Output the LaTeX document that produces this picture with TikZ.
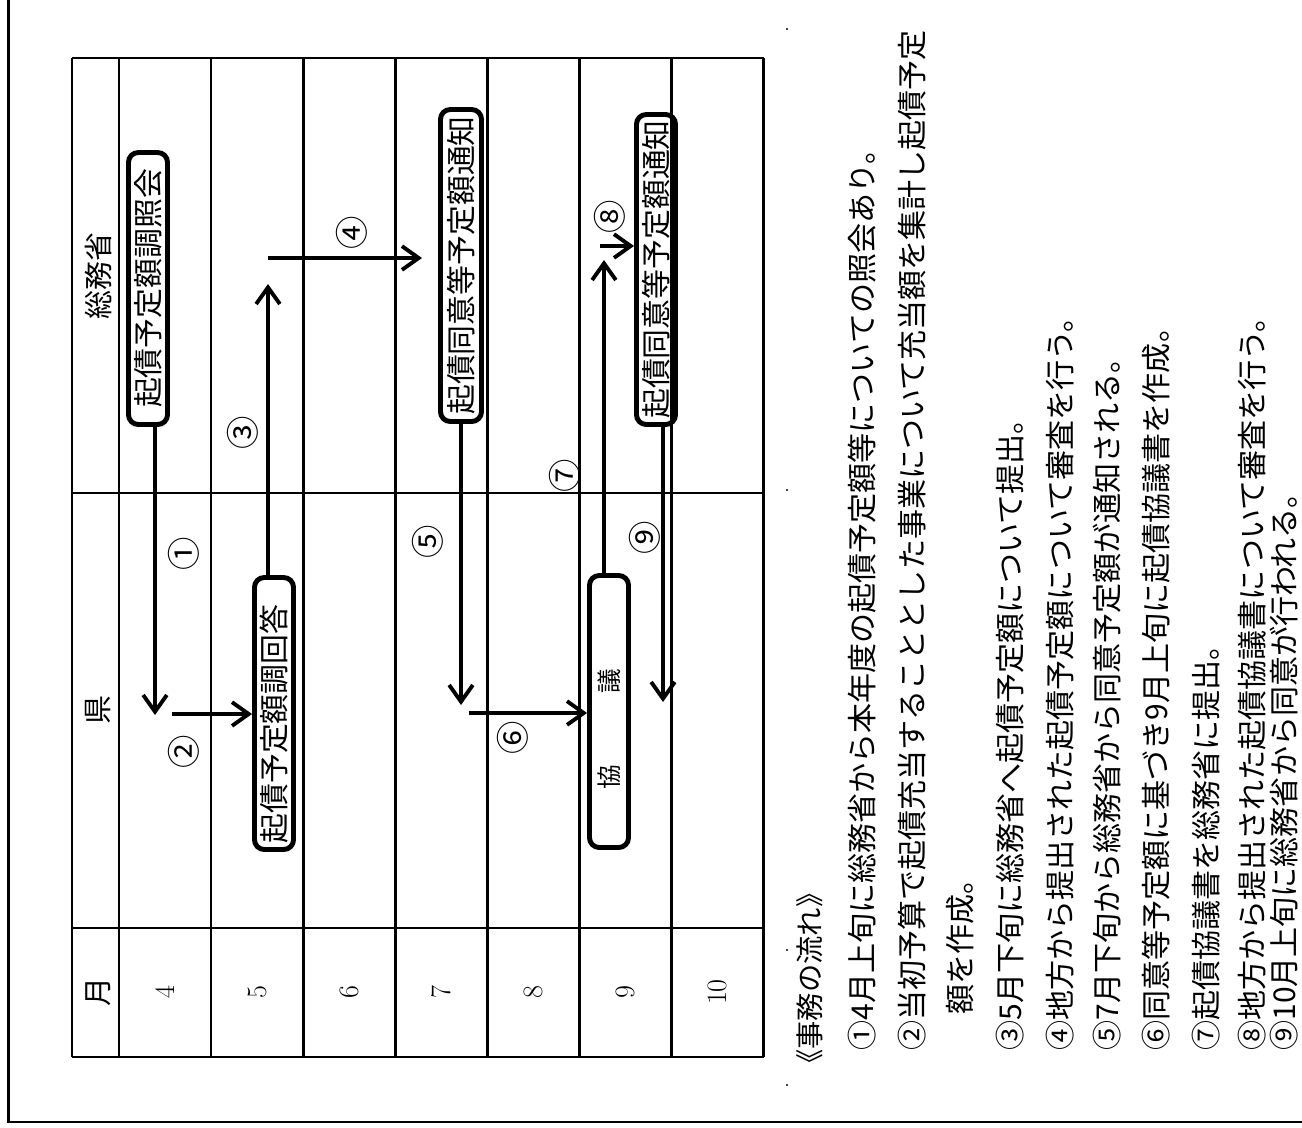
\documentclass[tikz,border=0pt]{standalone}
\usepackage{fontspec}
\newfontfamily\jp{Noto Sans CJK JP}
\usetikzlibrary{arrows.meta}

\begin{document}
\begin{tikzpicture}[x=0.02cm, y=-0.02cm,
  hyo/.style={line width=1.5pt},
  hako/.style={draw, line width=2.8pt, rounded corners=5.5pt, rotate=90,
    font=\jp\fontsize{17pt}{19pt}\selectfont, inner xsep=2pt, inner ysep=0pt,
    minimum height=0.78cm},
  ya/.style={line width=2.2pt, -{Straight Barb[length=9.5pt, width=13.5pt]}},
  midashi/.style={rotate=90, inner sep=0pt, font=\jp\fontsize{16.5pt}{18pt}\selectfont},
  maru/.style={rotate=90, inner sep=0pt, font=\jp\fontsize{19pt}{21pt}\selectfont},
  gyo/.style={rotate=90, anchor=west, inner sep=0pt, font=\jp\fontsize{17.1pt}{19pt}\selectfont}]

  \useasboundingbox (0,0) rectangle (1302,1127);

  % 外枠
  \draw[line width=1.3pt] (8.5,0) -- (8.5,1122) -- (1302,1122);

  % 表の罫線
  \foreach \x in {72, 119, 211.1, 303.2, 395.3, 487.4, 579.5, 671.6, 763.7} {
    \draw[hyo] (\x, 58) -- (\x, 1057);
  }
  \foreach \y in {58, 493, 928, 1057} {
    \draw[hyo] (72, \y) -- (763.7, \y);
  }

  % 見出し
  \node[midashi] (somu) at (98, 276) {総務省};
  \node[midashi] (ken) at (98, 710) {県};
  \node[midashi] (tsuki) at (98, 992) {月};
  \foreach \m [count=\i from 0] in {4,...,10} {
    \node[rotate=90, font=\fontsize{16pt}{18pt}\selectfont] (m\m) at (165+92.1*\i, 992) {\m};
  }

  % 事務のボックス
  \node[hako, minimum width=5.44cm] (shokai) at (148, 288.5) {起債予定額調照会};
  \node[hako, minimum width=6.24cm, minimum height=0.82cm] (tsuchi1) at (461, 265.5) {起債同意等予定額通知};
  \node[hako, minimum width=6.2cm] (tsuchi2) at (656, 269.5) {起債同意等予定額通知};
  \node[hako, minimum width=5.44cm, text width=5.2cm, align=left] (kaito) at (274, 713.5) {起債予定額調回答};
  \node[hako, minimum width=5.44cm, text width=5.2cm, align=left,
    font=\jp\fontsize{14pt}{16pt}\selectfont] (kyogi) at (609, 711.5) {\hspace*{1.04cm}協\hspace{1.43cm}議};

  % 流れの矢印
  \coordinate (t1) at (155, 715);
  \draw[ya] (shokai.west -| t1) -- (t1);
  \coordinate (s2) at (172, 714);
  \draw[ya] (s2) -- (s2 -| kaito.north);
  \coordinate (t3) at (268, 284);
  \draw[ya] (kaito.east -| t3) -- (t3);
  \coordinate (s4) at (268, 258);
  \coordinate (t4) at (422, 258);
  \draw[ya] (s4) -- (t4);
  \coordinate (t5) at (461, 705);
  \draw[ya] (tsuchi1.west -| t5) -- (t5);
  \coordinate (s6) at (469, 713);
  \draw[ya] (s6) -- (s6 -| kyogi.north);
  \coordinate (t7) at (604, 260);
  \draw[ya] (kyogi.east -| t7) -- (t7);
  \coordinate (s8) at (600, 246);
  \draw[ya] (s8) -- (s8 -| tsuchi2.north);
  \coordinate (t9) at (663, 702);
  \draw[ya] (tsuchi2.west -| t9) -- (t9);

  % 番号
  \node[maru] (l1) at (184, 554) {①};
  \node[maru] (l2) at (184, 752) {②};
  \node[maru] (l3) at (243, 433) {③};
  \node[maru] (l4) at (352, 233) {④};
  \node[maru] (l5) at (428, 542) {⑤};
  \node[maru] (l6) at (513, 738) {⑥};
  \node[maru] (l7) at (565, 476) {⑦};
  \node[maru] (l8) at (610, 217) {⑧};
  \node[maru] (l9) at (645, 538) {⑨};

  % 小さな点
  \foreach \y in {29, 490, 950, 1085} {
    \fill (787, \y) circle (1.2);
  }

  % 事務の流れの説明
  \node[gyo, font=\jp\fontsize{16.1pt}{18pt}\selectfont] (g0) at (810, 1078) {《事務の流れ》};
  \node[gyo] (g1) at (862, 1051) {①4月上旬に総務省から本年度の起債予定額等についての照会あり。};
  \node[gyo] (g2) at (912, 1051) {②当初予算で起債充当することとした事業について充当額を集計し起債予定};
  \node[gyo] (g2b) at (960, 1015) {額を作成。};
  \node[gyo] (g3) at (1010, 1051) {③5月下旬に総務省へ起債予定額について提出。};
  \node[gyo] (g4) at (1060, 1051) {④地方から提出された起債予定額について審査を行う。};
  \node[gyo] (g5) at (1107, 1051) {⑤7月下旬から総務省から同意予定額が通知される。};
  \node[gyo] (g6) at (1156, 1051) {⑥同意等予定額に基づき9月上旬に起債協議書を作成。};
  \node[gyo] (g7) at (1206, 1051) {⑦起債協議書を総務省に提出。};
  \node[gyo] (g8) at (1252, 1051) {⑧地方から提出された起債協議書について審査を行う。};
  \node[gyo] (g9) at (1284, 1051) {⑨10月上旬に総務省から同意が行われる。};

\end{tikzpicture}
\end{document}
